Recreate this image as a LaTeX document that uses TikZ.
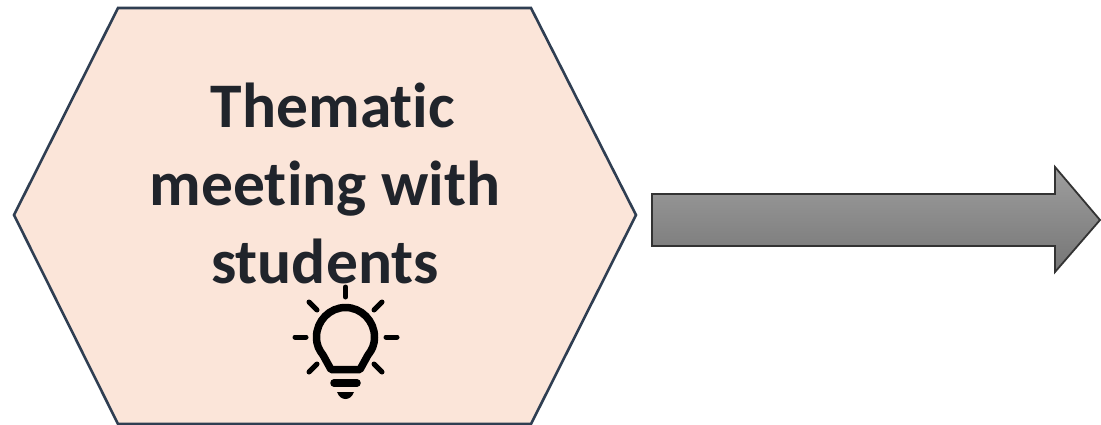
\documentclass[tikz,border=0pt]{standalone}
\usepackage{fontspec}
\setmainfont[RawFeature={-liga;-clig;-dlig}]{Carlito}
\definecolor{hexfill}{HTML}{FBE5D9}
\definecolor{hexline}{HTML}{2F3E52}
\definecolor{txt}{HTML}{20242B}
\tikzset{
  hexshape/.style={draw=hexline,fill=hexfill,line width=2.6pt,line join=miter},
  arrowshape/.style={draw=black!80,line width=1.8pt,top color=black!38,bottom color=black!54,line join=miter},
  lbl/.style={text=txt,font=\fontsize{63.5}{78}\selectfont\bfseries,align=center,inner sep=0pt},
  bulb/.style={draw=black,line width=7.5pt,line cap=round,line join=round}
}
\begin{document}
\begin{tikzpicture}[x=1pt,y=-1pt]
\useasboundingbox (0,0) rectangle (1101,425);
\fill[white] (0,0) rectangle (1101,425);
\path[hexshape] (14,215) -- (118,8) -- (531,8) -- (636,215) -- (531,424) -- (118,424) -- cycle;
\node[lbl] (label) at (325,183) {\hspace*{16pt}Thematic\\meeting with\\students};
\path[arrowshape] (652,194) -- (1055,194) -- (1055,167) -- (1100,220) -- (1055,272) -- (1055,246) -- (652,246) -- cycle;
% light bulb
\draw[bulb] (331,369.5) -- (323,355) .. controls (319,350) and (316.5,345) .. (316.5,337)
  .. controls (316.5,321) and (329.5,307.5) .. (345.5,307.5)
  .. controls (361.5,307.5) and (374.5,321) .. (374.5,337)
  .. controls (374.5,345) and (372,350) .. (368,355) -- (360,369.5) -- cycle;
\draw[bulb] (334,383) -- (357,383);
\fill[black] (337,392) -- (354,392) .. controls (352,397) and (349,399) .. (345.5,399) .. controls (342,399) and (339,397) .. (337,392) -- cycle;
\draw[bulb,line width=5pt] (345.5,287) -- (345.5,297);
\draw[bulb,line width=5pt] (295,337) -- (306,337);
\draw[bulb,line width=5pt] (386,337) -- (397,337);
\draw[bulb,line width=5pt] (309,302) -- (317,310);
\draw[bulb,line width=5pt] (382,302) -- (374,310);
\draw[bulb,line width=5pt] (309,372) -- (317,364);
\draw[bulb,line width=5pt] (382,372) -- (374,364);
\end{tikzpicture}
\end{document}
